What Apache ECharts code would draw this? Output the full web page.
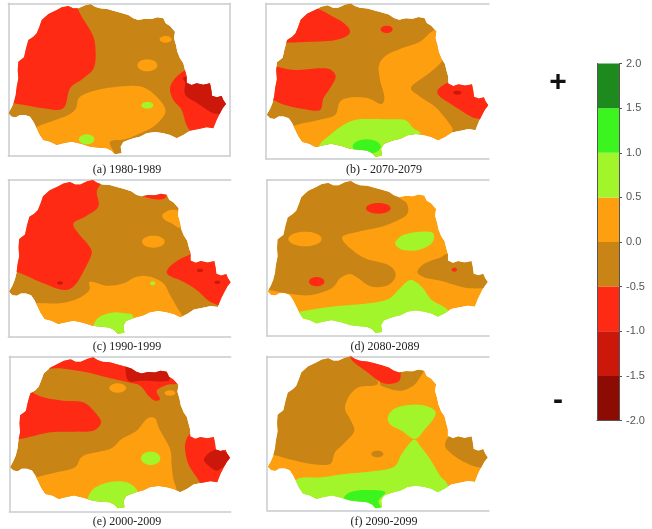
<!DOCTYPE html>
<html>
<head>
<meta charset="utf-8">
<style>
  html, body { margin: 0; padding: 0; background: #fff; }
  #chart { width: 652px; height: 529px; }
</style>
<script src="https://cdn.jsdelivr.net/npm/echarts@6/dist/echarts.min.js"></script>
</head>
<body>
<div id="chart"></div>
<script>
// anomaly classes of the colour bar, low to high
const binColors = ["#8c0c04", "#cc180a", "#fe2a14", "#c98416", "#fe9f10", "#a2f52a", "#3cf51e", "#1e8a1e"];
const barTicks = [-2, -1.5, -1, -0.5, 0, 0.5, 1, 1.5, 2];
const DARK = -1.25, RED = -0.75, BROWN = -0.25, ORANGE = 0.25, LIME = 0.75, GREEN = 1.25;

const panelNames = ["(a) 1980-1989", "(b) - 2070-2079", "(c) 1990-1999", "(d) 2080-2089", "(e) 2000-2009", "(f) 2090-2099"];

// state outline, map units of panel a
const outline = [
  [272,12],[285,20],[300,25],[322,27],[340,32],[362,38],[385,45],[400,55],[415,60],[435,56],[455,57],[472,52],[490,55],
  [497,70],[510,78],[525,95],[522,115],[528,135],[532,155],[540,175],[550,190],[555,210],[560,228],[560,248],[575,255],
  [590,250],[610,254],[630,250],[634,270],[636,287],[650,292],[665,288],[670,300],[678,312],[668,325],[660,340],[650,360],
  [640,385],[620,382],[600,386],[570,392],[550,405],[530,415],[510,405],[490,400],[465,396],[440,400],[420,410],[400,415],
  [385,420],[370,426],[362,440],[365,460],[345,463],[335,452],[320,445],[295,443],[270,440],[245,432],[215,425],[190,430],
  [170,435],[150,425],[130,420],[118,402],[110,385],[100,365],[90,350],[75,345],[60,345],[48,352],[35,350],[25,340],
  [35,322],[42,305],[47,285],[50,260],[55,235],[53,210],[55,185],[72,172],[78,145],[85,120],[100,110],[110,100],[118,80],
  [125,60],[145,42],[170,30],[185,22],[205,18],[220,25],[235,25],[255,16]
];
const outlineBox = [25, 678, 12, 465];

// frame of each panel and where the outline sits in it, map units
const frames = [[25,690,10,468],[33,702,10,477],[25,692,14,484],[35,702,14,482],[28,692,22,487],[36,702,22,484]];
const outlineFit = [[25,678,12,465],[35,700,10,472],[27,692,15,478],[38,698,18,476],[30,690,25,480],[38,698,22,480]];
const baseLevels = [BROWN, BROWN, BROWN, ORANGE, BROWN, ORANGE];

const zonesA = [
  [RED, [[232,20],[245,50],[270,90],[285,130],[283,200],[250,235],[210,265],[190,325],[130,325],[42,310],[0,310],[0,0],[232,0]]],
  [ORANGE, [[108,382],[160,362],[205,345],[228,325],[240,290],[300,268],[380,258],[430,262],[470,290],[495,325],[490,350],[460,380],[420,400],[375,418],[330,425],[345,465],[340,490],[90,490],[90,400]]],
  [RED, [[553,212],[525,235],[510,265],[520,300],[545,330],[570,392],[640,420],[720,420],[720,200],[580,200]]],
  [DARK, [[556,250],[556,285],[590,308],[630,335],[655,342],[700,342],[700,230],[560,230]]]
];
const spotsA = [[ORANGE,497,118,18,10],[ORANGE,442,196,30,18],[LIME,442,316,18,10],[LIME,260,418,23,15]];

const zonesB = [
  [RED, [[95,128],[150,126],[230,122],[272,110],[285,92],[265,68],[225,45],[192,28],[150,20],[60,60],[60,130]]],
  [RED, [[65,200],[120,210],[190,205],[225,208],[242,230],[225,265],[205,295],[195,330],[150,328],[90,315],[52,300],[20,300],[20,190]]],
  [ORANGE, [[530,95],[495,125],[440,145],[395,165],[372,195],[375,240],[388,290],[378,312],[340,295],[290,292],[255,305],[240,345],[190,360],[115,378],[90,400],[100,490],[570,490],[590,400],[592,385],[575,360],[540,320],[495,290],[468,262],[515,225],[558,187],[580,140],[560,90]]],
  [LIME, [[192,437],[225,405],[265,375],[310,358],[400,358],[450,360],[475,385],[498,405],[500,490],[180,490]]],
  [RED, [[570,252],[548,270],[555,290],[600,320],[640,345],[665,355],[720,355],[720,240],[610,240],[585,246]]]
];
const spotsB = [[RED,395,88,18,11],[GREEN,335,440,42,22],[DARK,607,278,12,6]];

const zonesC = [
  [RED, [[305,20],[290,50],[295,95],[255,125],[220,145],[235,175],[265,210],[275,235],[255,280],[225,330],[190,345],[130,325],[48,290],[0,290],[0,0],[305,0]]],
  [RED, [[430,62],[460,72],[490,72],[500,60],[500,40],[430,40]]],
  [ORANGE, [[487,120],[510,105],[535,108],[550,130],[540,158],[515,145],[495,135]]],
  [RED, [[570,238],[535,255],[505,280],[505,300],[550,320],[590,345],[640,385],[720,390],[720,230],[580,225]]],
  [ORANGE, [[108,385],[180,385],[235,370],[268,345],[270,320],[320,332],[370,325],[410,305],[450,305],[490,325],[510,360],[530,395],[548,430],[545,490],[90,490],[90,400]]],
  [LIME, [[278,457],[295,428],[335,413],[375,415],[400,425],[400,490],[270,490]]]
];
const spotsC = [[DARK,180,324,9,5],[ORANGE,460,200,34,18],[DARK,600,286,9,5],[DARK,652,322,9,5],[LIME,458,325,8,6]];

const zonesD = [
  [BROWN, [[430,62],[455,85],[458,115],[430,135],[380,155],[310,170],[262,185],[280,215],[330,250],[400,270],[422,300],[400,330],[350,335],[310,310],[285,297],[255,310],[230,340],[170,360],[115,358],[40,345],[0,345],[0,0],[430,0]]],
  [LIME, [[425,195],[450,178],[500,170],[535,175],[530,205],[490,225],[445,225],[422,210]]],
  [BROWN, [[487,290],[510,265],[555,248],[590,235],[720,240],[720,342],[690,340],[630,338],[560,318],[510,308]]],
  [LIME, [[135,410],[230,395],[340,385],[400,372],[430,345],[465,315],[500,335],[530,375],[578,405],[560,440],[550,490],[120,490],[120,420]]]
];
const spotsD = [[ORANGE,150,192,50,22],[RED,370,100,37,16],[RED,185,320,23,14],[RED,598,284,8,6]];

const zonesE = [
  [RED, [[140,60],[180,58],[260,70],[320,85],[385,100],[420,110],[445,140],[465,155],[480,150],[470,125],[500,108],[530,105],[560,100],[560,0],[120,0],[120,60]]],
  [DARK, [[375,50],[385,95],[430,95],[505,95],[505,60],[500,40],[375,30]]],
  [RED, [[95,128],[130,145],[190,155],[250,160],[285,190],[303,220],[280,245],[225,248],[150,250],[60,270],[0,270],[0,120],[95,120]]],
  [ORANGE, [[110,385],[170,370],[225,355],[250,320],[330,300],[365,270],[410,245],[440,210],[465,208],[478,240],[510,300],[515,350],[520,390],[530,425],[535,490],[90,490],[90,400]]],
  [LIME, [[262,452],[280,420],[325,400],[380,400],[415,430],[420,490],[260,490]]],
  [RED, [[558,275],[555,300],[565,345],[590,385],[605,405],[640,430],[720,420],[720,245],[600,245],[570,255]]],
  [DARK, [[612,330],[630,310],[660,300],[690,320],[700,330],[680,345],[650,365],[620,345]]]
];
const spotsE = [[ORANGE,353,117,25,14],[ORANGE,510,132,16,8],[LIME,452,328,29,20]];

const zonesF = [
  [BROWN, [[285,20],[370,100],[310,115],[280,145],[270,180],[285,210],[298,245],[275,275],[240,310],[225,345],[170,345],[100,330],[55,318],[0,318],[0,0],[285,0]]],
  [BROWN, [[375,100],[400,118],[440,125],[475,110],[495,85],[505,62],[470,50],[430,55]]],
  [RED, [[285,18],[295,38],[340,72],[385,103],[430,98],[437,70],[430,55],[380,30],[290,10]]],
  [BROWN, [[570,290],[580,265],[610,255],[720,250],[720,350],[670,355],[620,335],[585,310]]],
  [LIME, [[398,210],[410,185],[445,170],[500,168],[540,185],[535,210],[510,240],[480,270],[440,245],[410,230]]],
  [LIME, [[475,272],[440,315],[415,355],[340,368],[270,375],[200,385],[120,395],[110,490],[600,490],[578,408],[555,380],[525,330],[495,290]]],
  [GREEN, [[265,450],[285,430],[330,423],[390,428],[370,455],[380,478],[380,495],[260,495]]]
];
const spotsF = [[BROWN,367,315,18,10]];

const panelZones = [zonesA, zonesB, zonesC, zonesD, zonesE, zonesF];
const panelSpots = [spotsA, spotsB, spotsC, spotsD, spotsE, spotsF];

// pixel corner of each panel's map space, 3 map units to a pixel
const panelOrigins = [[0,0],[255,0],[0,175],[255,175],[0,349],[255,349]];
const captionCenters = [[127,170],[384,170],[127,347],[385,347],[127,522],[384,522]];

function binColor(v) {
  return binColors[Math.floor((v + 2) / 0.5)];
}

function fitOutline(i) {
  const [l, r, t, b] = outlineFit[i];
  return outline.map(p => [
    l + (p[0] - outlineBox[0]) * (r - l) / (outlineBox[1] - outlineBox[0]),
    t + (p[1] - outlineBox[2]) * (b - t) / (outlineBox[3] - outlineBox[2])
  ]);
}

function spotToZone(s) {
  const pts = [];
  for (let k = 0; k < 16; k += 1) {
    const a = k / 16 * Math.PI * 2;
    pts.push([s[1] + s[3] * Math.cos(a), s[2] + s[4] * Math.sin(a)]);
  }
  return [s[0], pts];
}

// round a closed contour so it still passes through its traced vertices
function roundContour(pts) {
  const out = [];
  const n = pts.length;
  for (let i = 0; i < n; i += 1) {
    const p0 = pts[(i + n - 1) % n];
    const p1 = pts[i];
    const p2 = pts[(i + 1) % n];
    const p3 = pts[(i + 2) % n];
    for (let s = 0; s < 6; s += 1) {
      const t = s / 6;
      const t2 = t * t;
      const t3 = t2 * t;
      out.push([0, 1].map(d => 0.5 * (2 * p1[d] + (p2[d] - p0[d]) * t
        + (2 * p0[d] - 5 * p1[d] + 4 * p2[d] - p3[d]) * t2
        + (3 * p1[d] - p0[d] - 3 * p2[d] + p3[d]) * t3)));
    }
  }
  return out;
}

const grids = [];
const xAxes = [];
const yAxes = [];
const series = [];
const frameLine = { show: true, onZero: false, lineStyle: { color: "#c8ccd0", width: 1.5 } };

panelNames.forEach((name, i) => {
  const f = frames[i];
  const o = panelOrigins[i];
  grids.push({
    left: o[0] + f[0] / 3,
    top: o[1] + f[2] / 3,
    width: (f[1] - f[0]) / 3,
    height: (f[3] - f[2]) / 3
  });
  const hidden = { axisTick: { show: false }, axisLabel: { show: false }, splitLine: { show: false }, axisLine: frameLine };
  xAxes.push({ type: "value", gridIndex: i, min: f[0], max: f[1], position: "bottom", ...hidden });
  xAxes.push({ type: "value", gridIndex: i, min: f[0], max: f[1], position: "top", ...hidden });
  yAxes.push({ type: "value", gridIndex: i, min: f[2], max: f[3], inverse: true, position: "left", ...hidden });

  const border = fitOutline(i);
  const zones = [[baseLevels[i], border]].concat(panelZones[i], panelSpots[i].map(spotToZone));
  series.push({
    type: "custom",
    xAxisIndex: i * 2,
    yAxisIndex: i,
    silent: true,
    clip: false,
    data: zones.map((z, k) => [k]),
    renderItem(params, api) {
      const z = zones[api.value(0)];
      const contour = z[1] === border ? border : roundContour(z[1]);
      return {
        type: "polygon",
        shape: { points: contour.map(p => api.coord(p)) },
        style: { fill: binColor(z[0]) },
        clipPath: { type: "polygon", shape: { points: border.map(p => api.coord(p)) } }
      };
    }
  });
});

// panel a still shows the right edge of its frame
yAxes.push({
  type: "value", gridIndex: 0, min: frames[0][2], max: frames[0][3], inverse: true, position: "right",
  axisTick: { show: false }, axisLabel: { show: false }, splitLine: { show: false }, axisLine: frameLine
});

// colour bar
const barIdx = grids.length;
grids.push({ left: 597, top: 63.5, width: 22, height: 357 });
const barEdge = { show: true, onZero: false, lineStyle: { color: "#555", width: 1 } };
xAxes.push({ type: "category", gridIndex: barIdx, data: ["class"], position: "bottom", z: 5, axisTick: { show: false }, axisLabel: { show: false }, axisLine: barEdge });
const barAxis = yAxes.length;
yAxes.push({
  type: "value", gridIndex: barIdx, min: barTicks[0], max: barTicks[barTicks.length - 1], interval: 0.5, position: "right", z: 5,
  axisLine: barEdge,
  axisTick: { show: true, length: 3, lineStyle: { color: "#555" } },
  splitLine: { show: false },
  axisLabel: { color: "#555", fontFamily: "Liberation Sans", fontSize: 11, margin: 7, formatter: v => v.toFixed(1) }
});
yAxes.push({
  type: "value", gridIndex: barIdx, min: barTicks[0], max: barTicks[barTicks.length - 1], interval: 0.5, position: "left", z: 5,
  axisLine: barEdge, axisTick: { show: false }, axisLabel: { show: false }, splitLine: { show: false }
});
binColors.forEach((c, k) => {
  const lo = barTicks[k];
  series.push({
    type: "bar",
    xAxisIndex: xAxes.length - 1,
    yAxisIndex: barAxis,
    stack: "classes",
    barWidth: "100%",
    silent: true,
    itemStyle: { color: lo < 0 ? binColors[3 - k] : c },
    data: [lo < 0 ? -0.5 : 0.5]
  });
});

const titles = panelNames.map((name, i) => ({
  text: name,
  left: captionCenters[i][0],
  top: captionCenters[i][1],
  padding: 0,
  textAlign: "center",
  textVerticalAlign: "middle",
  textStyle: { fontFamily: "Liberation Serif", fontSize: 12, fontWeight: "normal", color: "#222" }
}));
titles.push({
  text: "+", left: 558, top: 83, padding: 0, textAlign: "center", textVerticalAlign: "middle",
  textStyle: { fontFamily: "Liberation Sans", fontSize: 30, fontWeight: "bold", color: "#111" }
});
titles.push({
  text: "-", left: 558, top: 401, padding: 0, textAlign: "center", textVerticalAlign: "middle",
  textStyle: { fontFamily: "Liberation Sans", fontSize: 30, fontWeight: "bold", color: "#111" }
});

const chart = echarts.init(document.getElementById("chart"), null, { renderer: "canvas" });
chart.setOption({
  animation: false,
  backgroundColor: "#fff",
  title: titles,
  grid: grids,
  xAxis: xAxes,
  yAxis: yAxes,
  series: series
});
</script>
</body>
</html>
